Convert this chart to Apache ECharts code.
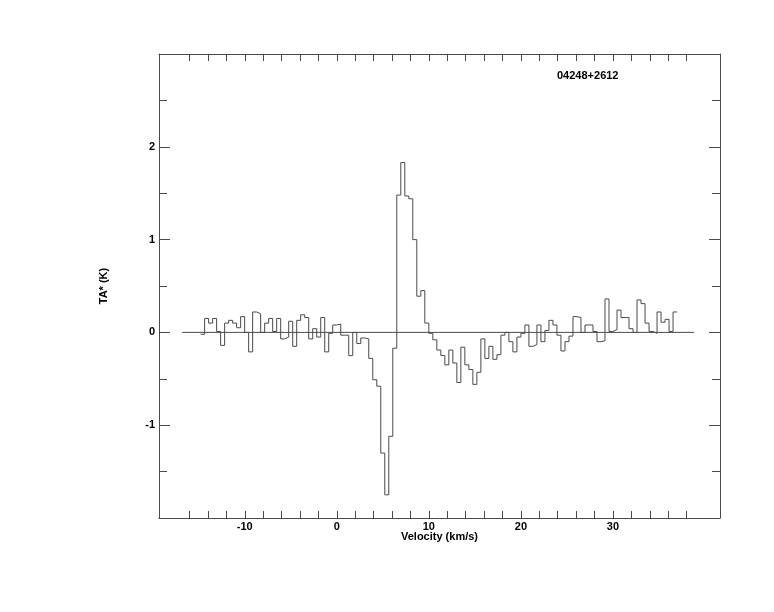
<!DOCTYPE html>
<html>
<head>
<meta charset="utf-8">
<script src="https://cdn.jsdelivr.net/npm/echarts@6/dist/echarts.min.js"></script>
<style>
html,body{margin:0;padding:0;background:#fff;}
#chart{width:774px;height:612px;}
</style>
</head>
<body>
<div id="chart"></div>
<script>
// Spectrum channels: left edge of first channel and channel width (km/s)
const firstEdge = -14.8;
const channelWidth = 0.435;
// TA* (K) per channel
const taValues = [
  -0.02, 0.15, 0.10, 0.15, 0.01, -0.14, 0.10, 0.13, 0.10, 0.05,
  0.17, 0.00, -0.21, 0.22, 0.20, 0.00, 0.10, 0.15, 0.01, 0.15,
  -0.07, -0.05, 0.12, -0.15, 0.13, 0.19, 0.16, -0.07, 0.04, -0.05,
  0.16, -0.21, -0.01, 0.08, 0.09, -0.03, -0.03, -0.25, 0.00, -0.12,
  -0.06, -0.07, -0.28, -0.51, -0.58, -1.30, -1.75, -1.12, -0.17, 1.48,
  1.83, 1.47, 1.44, 1.00, 0.39, 0.45, 0.10, -0.01, -0.08, -0.19,
  -0.25, -0.35, -0.19, -0.33, -0.54, -0.16, -0.35, -0.40, -0.56, -0.43,
  -0.07, -0.28, -0.15, -0.29, -0.24, -0.03, 0.00, -0.10, -0.21, -0.05,
  -0.01, 0.08, -0.15, -0.13, 0.08, -0.10, 0.02, 0.13, 0.08, -0.03,
  -0.20, -0.10, -0.04, 0.17, 0.16, 0.00, 0.08, 0.08, 0.01, -0.10,
  -0.09, 0.36, 0.01, 0.03, 0.24, 0.16, 0.16, 0.04, 0.00, 0.35,
  0.31, 0.10, 0.01, -0.01, 0.22, 0.11, 0.14, 0.01, 0.22
];
// Baseline extent (km/s)
const baselineRange = [-16.8, 38.8];
// Axis ranges and ticks
const xRange = [-19.32, 41.63];
const yRange = [-2, 3];
const xTickValues = [-16,-14,-12,-10,-8,-6,-4,-2,0,2,4,6,8,10,12,14,16,18,20,22,24,26,28,30,32,34,36,38];
const xLabelValues = [-10, 0, 10, 20, 30];
const sourceName = '04248+2612';
const xTitle = 'Velocity (km/s)';
const yTitle = 'TA* (K)';

const stepData = taValues.map((v, i) => [firstEdge + i * channelWidth, v]);
stepData.push([firstEdge + taValues.length * channelWidth, taValues[taValues.length - 1]]);

const col = '#4a4a4a';
const font = {fontFamily: 'Liberation Sans', fontWeight: 'bold', fontSize: 11, color: '#000'};

const chart = echarts.init(document.getElementById('chart'), null, {renderer: 'canvas'});
const xCommon = {
  type: 'value', min: xRange[0], max: xRange[1],
  axisLine: {show: true, onZero: false, lineStyle: {color: col, width: 1}},
  axisTick: {show: true, inside: true, length: 7, customValues: xTickValues, lineStyle: {color: col}},
  splitLine: {show: false}
};
const yCommon = {
  type: 'value', min: yRange[0], max: yRange[1], interval: 1,
  axisLine: {show: true, onZero: false, lineStyle: {color: col, width: 1}},
  axisTick: {show: true, inside: true, length: 11, lineStyle: {color: col}},
  minorTick: {show: true, splitNumber: 2, length: 8, lineStyle: {color: col}},
  splitLine: {show: false}, minorSplitLine: {show: false}
};
chart.setOption({
  animation: false,
  backgroundColor: '#fff',
  grid: {left: 159, right: 54, top: 54, bottom: 94, outerBoundsMode: 'none'},
  title: {text: sourceName, left: 557, top: 70, padding: 0, textStyle: Object.assign({}, font)},
  xAxis: [
    Object.assign({}, xCommon, {
      position: 'bottom',
      name: xTitle, nameLocation: 'middle', nameGap: 13, nameMoveOverlap: false,
      nameTextStyle: Object.assign({}, font),
      axisLabel: Object.assign({show: true, margin: 3, customValues: xLabelValues}, font)
    }),
    Object.assign({}, xCommon, {position: 'top', axisLabel: {show: false}})
  ],
  yAxis: [
    Object.assign({}, yCommon, {
      position: 'left',
      name: yTitle, nameLocation: 'middle', nameGap: 50, nameRotate: 90, nameMoveOverlap: false,
      nameTextStyle: Object.assign({}, font),
      axisLabel: Object.assign({show: true, margin: 4, showMinLabel: false, showMaxLabel: false}, font)
    }),
    Object.assign({}, yCommon, {position: 'right', axisLabel: {show: false}})
  ],
  series: [
    {
      type: 'line', xAxisIndex: 0, yAxisIndex: 0,
      data: [[baselineRange[0], 0], [baselineRange[1], 0]],
      symbol: 'none', lineStyle: {color: col, width: 1}, silent: true
    },
    {
      type: 'line', xAxisIndex: 0, yAxisIndex: 0,
      data: stepData, step: 'end',
      symbol: 'none', lineStyle: {color: col, width: 1}, silent: true
    }
  ]
});
</script>
</body>
</html>
